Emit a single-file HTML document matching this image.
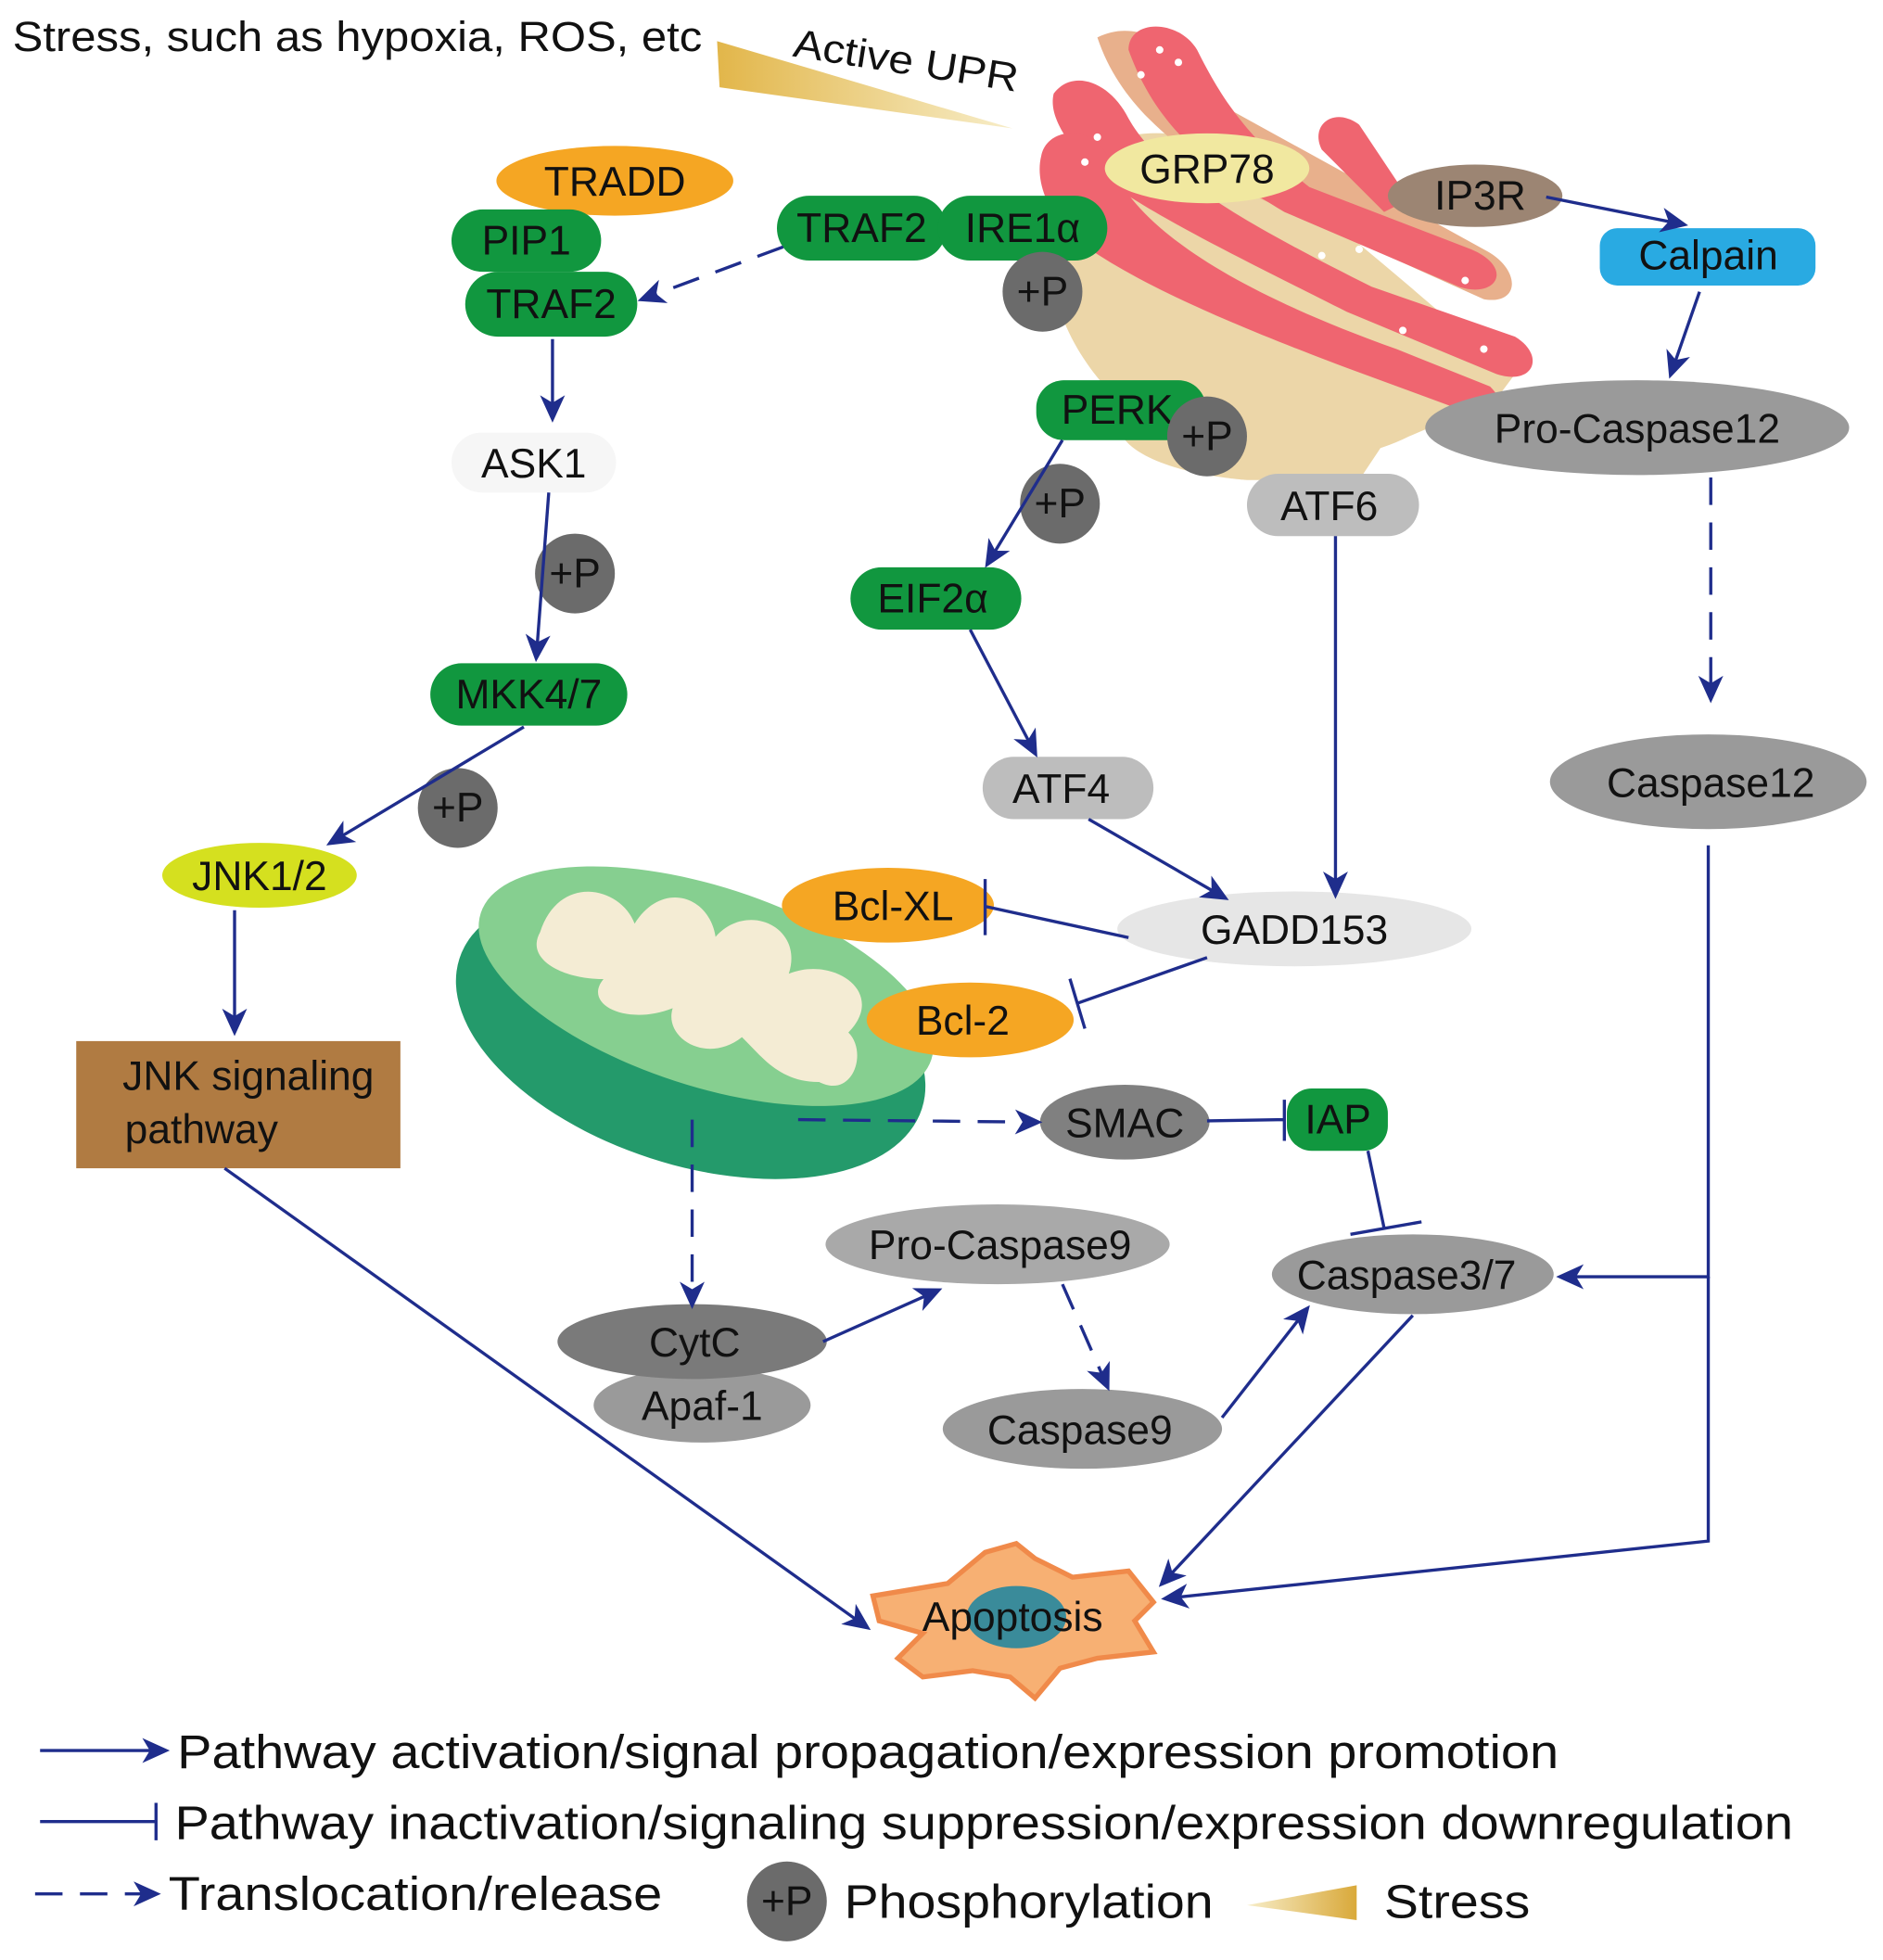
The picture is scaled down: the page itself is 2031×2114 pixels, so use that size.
<!DOCTYPE html>
<html><head><meta charset="utf-8"><style>
html,body{margin:0;padding:0;background:#fff}
svg{display:block}
text{font-family:"Liberation Sans",Arial,sans-serif;fill:#111}
</style></head><body>
<svg width="2031" height="2114" viewBox="0 0 1510 1572" xmlns="http://www.w3.org/2000/svg">
<defs>
<linearGradient id="g" x1="0" y1="0" x2="1" y2="0"><stop offset="0" stop-color="#e2b64a"/><stop offset="1" stop-color="#f7edc8"/></linearGradient>
<linearGradient id="g2" x1="0" y1="0" x2="1" y2="0"><stop offset="0" stop-color="#f7edc8"/><stop offset="1" stop-color="#d9a93a"/></linearGradient>
<marker id="ab" markerWidth="22" markerHeight="22" refX="18" refY="11" orient="auto" markerUnits="userSpaceOnUse" viewBox="0 0 22 22"><path d="M0,1 L22,11 L0,21 L6,11z" fill="#1f2d8c"/></marker>
</defs>
<style>.l{stroke:#1f2d8c;stroke-width:2.5;fill:none}.d{stroke-dasharray:22 14}</style>

<text x="10" y="41" font-size="34" textLength="553" lengthAdjust="spacingAndGlyphs">Stress, such as hypoxia, ROS, etc</text>
<polygon points="575,33 577,70 812,103" fill="url(#g)"/>
<text x="635" y="45" font-size="32" transform="rotate(9 635 45)" textLength="182" lengthAdjust="spacingAndGlyphs">Active UPR</text>

<!-- ER -->
<path d="M850,140 C825,210 850,290 920,340 C960,370 1060,385 1130,350 L1200,320 L1215,300 C1150,250 1080,180 1000,130 C960,100 890,95 850,140z" fill="#ecd6a8"/>
<path d="M900,350 C920,380 1000,385 1000,385 L1090,385 L1110,355z" fill="#ecd6a8"/>
<path d="M880,30 C920,10 960,50 990,90 L1190,200 C1220,215 1220,245 1190,240 L990,150 C950,120 900,90 880,30z" fill="#e8b08c"/>
<path d="M905,40 C905,15 945,15 960,40 C980,80 1000,110 1050,150 L1180,200 C1215,215 1200,240 1170,230 L1030,170 C980,140 930,110 905,40z" fill="#ef6570"/>
<path d="M845,75 C860,55 890,65 905,95 C930,140 1000,180 1100,230 L1215,270 C1240,285 1230,310 1200,300 L1080,250 C980,200 920,170 880,140 C860,120 840,95 845,75z" fill="#ef6570"/>
<path d="M835,125 C840,100 880,100 890,130 C910,180 980,230 1120,280 L1195,310 C1215,330 1200,345 1175,330 L1080,295 C960,250 900,220 860,190 C840,170 830,145 835,125z" fill="#ef6570"/>
<path d="M1060,120 C1050,100 1070,85 1090,100 L1130,160 L1110,170z" fill="#ef6570"/>
<g fill="#fff"><circle cx="930" cy="40" r="3"/><circle cx="945" cy="50" r="3"/><circle cx="915" cy="60" r="3"/><circle cx="880" cy="110" r="3"/><circle cx="870" cy="130" r="3"/><circle cx="1020" cy="70" r="3"/><circle cx="1090" cy="200" r="3"/><circle cx="1175" cy="225" r="3"/><circle cx="1200" cy="245" r="3"/><circle cx="1060" cy="205" r="3"/><circle cx="1125" cy="265" r="3"/><circle cx="1190" cy="280" r="3"/></g>

<g font-size="33" text-anchor="middle">
<ellipse cx="968" cy="135" rx="82" ry="28" fill="#f1e8a0"/><text x="968" y="147">GRP78</text>
<ellipse cx="1183" cy="157" rx="70" ry="25" fill="#9c8573"/><text x="1187" y="168">IP3R</text>
<rect x="1283" y="183" width="173" height="46" rx="14" fill="#29aae2"/><text x="1370" y="216">Calpain</text>
<ellipse cx="1313" cy="343" rx="170" ry="38" fill="#9a9a9a"/><text x="1313" y="355">Pro-Caspase12</text>
<ellipse cx="1370" cy="627" rx="127" ry="38" fill="#9a9a9a"/><text x="1372" y="639">Caspase12</text>

<ellipse cx="493" cy="145" rx="95" ry="28" fill="#f5a623"/><text x="493" y="157">TRADD</text>
<rect x="362" y="168" width="120" height="50" rx="25" fill="#11973f"/><text x="422" y="204">PIP1</text>
<rect x="373" y="218" width="138" height="52" rx="26" fill="#11973f"/><text x="442" y="255">TRAF2</text>
<rect x="623" y="157" width="136" height="52" rx="26" fill="#11973f"/><text x="691" y="194">TRAF2</text>
<rect x="752" y="157" width="136" height="52" rx="26" fill="#11973f"/><text x="820" y="194">IRE1α</text>
<rect x="831" y="305" width="136" height="48" rx="22" fill="#11973f"/><text x="896" y="340">PERK</text>
<rect x="1000" y="380" width="138" height="50" rx="25" fill="#bdbdbd"/><text x="1066" y="417">ATF6</text>
<rect x="682" y="455" width="137" height="50" rx="25" fill="#11973f"/><text x="748" y="491">EIF2α</text>
<rect x="788" y="607" width="137" height="50" rx="25" fill="#bdbdbd"/><text x="851" y="644">ATF4</text>
<rect x="362" y="347" width="132" height="48" rx="24" fill="#f6f6f6"/><text x="428" y="383">ASK1</text>
<rect x="345" y="532" width="158" height="50" rx="25" fill="#11973f"/><text x="424" y="568">MKK4/7</text>
<ellipse cx="208" cy="702" rx="78" ry="26" fill="#d5e01f"/><text x="208" y="714">JNK1/2</text>
</g>
<rect x="61" y="835" width="260" height="102" fill="#b07b42"/><text x="199" y="874" font-size="33" text-anchor="middle">JNK signaling</text><text x="100" y="917" font-size="33">pathway</text>

<g fill="#6b6b6b"><circle cx="836" cy="234" r="32"/><circle cx="968" cy="350" r="32"/><circle cx="850" cy="404" r="32"/><circle cx="461" cy="460" r="32"/><circle cx="367" cy="648" r="32"/><circle cx="631" cy="1525" r="32"/></g>
<g font-size="33" text-anchor="middle"><text x="836" y="245">+P</text><text x="968" y="361">+P</text><text x="850" y="415">+P</text><text x="461" y="471">+P</text><text x="367" y="659">+P</text><text x="631" y="1536">+P</text></g>

<!-- mitochondria -->
<g transform="rotate(18 560 810)">
<ellipse cx="560" cy="830" rx="195" ry="105" fill="#249a6b"/>
<ellipse cx="560" cy="790" rx="190" ry="80" fill="#86cf90"/>
<path d="M420,790 C420,740 470,735 490,760 C500,720 540,720 555,750 C570,715 620,720 620,760 C650,735 700,750 680,790 C700,800 700,840 670,835 C640,845 620,830 600,820 C580,850 540,840 540,815 C510,840 470,835 480,810 C450,820 415,815 420,790z" fill="#f4ecd4"/>
</g>
<g font-size="33" text-anchor="middle">
<ellipse cx="712" cy="726" rx="85" ry="30" fill="#f5a623"/><text x="716" y="738">Bcl-XL</text>
<ellipse cx="778" cy="818" rx="83" ry="30" fill="#f5a623"/><text x="772" y="830">Bcl-2</text>
<ellipse cx="1038" cy="745" rx="142" ry="30" fill="#e6e6e6"/><text x="1038" y="757">GADD153</text>
<ellipse cx="902" cy="900" rx="68" ry="30" fill="#808080"/><text x="902" y="912">SMAC</text>
<rect x="1032" y="873" width="81" height="50" rx="20" fill="#11973f"/><text x="1073" y="909">IAP</text>
<ellipse cx="800" cy="998" rx="138" ry="32" fill="#a9a9a9"/><text x="802" y="1010">Pro-Caspase9</text>
<ellipse cx="1133" cy="1022" rx="113" ry="32" fill="#9a9a9a"/><text x="1128" y="1034">Caspase3/7</text>
<ellipse cx="563" cy="1127" rx="87" ry="30" fill="#9a9a9a"/><text x="563" y="1139">Apaf-1</text>
<ellipse cx="555" cy="1076" rx="108" ry="30" fill="#7a7a7a"/><text x="557" y="1088">CytC</text>
<ellipse cx="868" cy="1146" rx="112" ry="32" fill="#9a9a9a"/><text x="866" y="1158">Caspase9</text>
</g>

<path d="M700,1280 L760,1270 L790,1245 L815,1238 L830,1250 L860,1265 L905,1260 L925,1285 L910,1300 L925,1325 L880,1330 L850,1338 L830,1362 L810,1345 L780,1340 L740,1345 L720,1330 L740,1310 L705,1300z" fill="#f7b073" stroke="#f08a4a" stroke-width="4"/>
<ellipse cx="815" cy="1297" rx="40" ry="25" fill="#3a8b9a"/>
<text x="812" y="1308" font-size="33" text-anchor="middle">Apoptosis</text>

<g class="l">
<path class="d" d="M628,198 L515,240" marker-end="url(#ab)"/>
<path d="M443,272 L443,335" marker-end="url(#ab)"/>
<path d="M440,395 L430,527" marker-end="url(#ab)"/>
<path d="M420,583 L265,676" marker-end="url(#ab)"/>
<path d="M188,730 L188,827" marker-end="url(#ab)"/>
<path d="M1240,158 L1350,180" marker-end="url(#ab)"/>
<path d="M1363,234 L1340,300" marker-end="url(#ab)"/>
<path class="d" d="M1372,383 L1372,560" marker-end="url(#ab)"/>
<path d="M852,353 L792,452" marker-end="url(#ab)"/>
<path d="M778,505 L830,604" marker-end="url(#ab)"/>
<path d="M1071,430 L1071,717" marker-end="url(#ab)"/>
<path d="M873,657 L982,720" marker-end="url(#ab)"/>
<path class="d" d="M640,898 L832,900" marker-end="url(#ab)"/>
<path class="d" d="M555,898 L555,1046" marker-end="url(#ab)"/>
<path d="M660,1076 L752,1035" marker-end="url(#ab)"/>
<path class="d" d="M852,1030 L888,1112" marker-end="url(#ab)"/>
<path d="M980,1137 L1048,1050" marker-end="url(#ab)"/>
<path d="M1370,678 L1370,1024 L1252,1024" marker-end="url(#ab)"/>
<path d="M1370,1024 L1370,1236 L935,1282" marker-end="url(#ab)"/>
<path d="M1133,1055 L932,1270" marker-end="url(#ab)"/>
<path d="M180,937 L695,1305" marker-end="url(#ab)"/>
<path d="M32,1404 L132,1404" marker-end="url(#ab)"/>
<path class="d" d="M28,1519 L125,1519" marker-end="url(#ab)"/>
<path d="M905,752 L790,727 M790,705 L790,750"/>
<path d="M968,768 L863,805 M858,785 L870,825"/>
<path d="M968,899 L1030,898 M1030,882 L1030,915"/>
<path d="M1097,923 L1110,985 M1083,990 L1140,980"/>
<path d="M32,1461 L125,1461 M125,1446 L125,1476"/>
</g>

<text x="142" y="1418" font-size="38" textLength="1108" lengthAdjust="spacingAndGlyphs">Pathway activation/signal propagation/expression promotion</text>
<text x="140" y="1475" font-size="38" textLength="1298" lengthAdjust="spacingAndGlyphs">Pathway inactivation/signaling suppression/expression downregulation</text>
<text x="135" y="1532" font-size="38" textLength="396" lengthAdjust="spacingAndGlyphs">Translocation/release</text>
<text x="677" y="1538" font-size="38" textLength="296" lengthAdjust="spacingAndGlyphs">Phosphorylation</text>
<polygon points="1000,1528 1088,1512 1088,1540" fill="url(#g2)"/>
<text x="1110" y="1538" font-size="38" textLength="117" lengthAdjust="spacingAndGlyphs">Stress</text>
</svg>
</body></html>
